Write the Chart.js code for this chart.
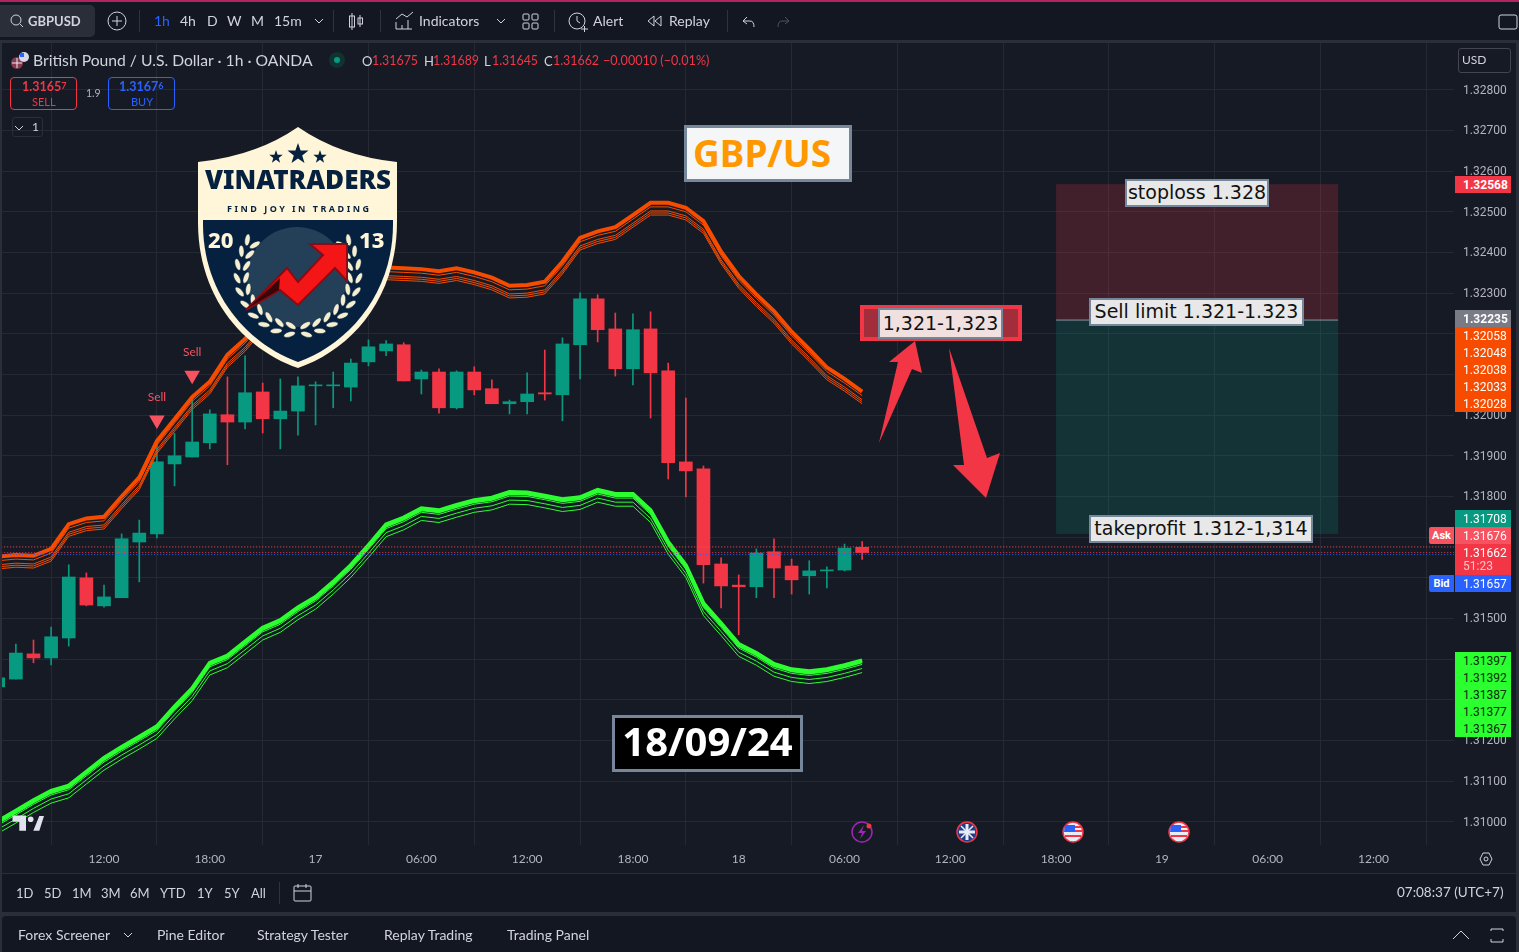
<!DOCTYPE html>
<html>
<head>
<meta charset="utf-8">
<title>GBPUSD</title>
<script src="https://cdn.jsdelivr.net/npm/chart.js@4"></script>
<style>
html,body{margin:0;padding:0;width:1519px;height:952px;overflow:hidden;background:#2a2e39;font-family:Lato,"Noto Sans",sans-serif}
.panel{position:absolute;background:#131722}
#pane{position:absolute;left:2px;top:43px;width:1514px;height:830px;background:#161a25}
canvas{position:absolute;left:0;top:0}
.t{position:absolute;white-space:nowrap;line-height:1;transform:translateY(-50%);color:#d1d4dc;font-size:14px}
.tag{position:absolute;left:1455px;width:56px;height:17px;font:12px/19px Roboto,sans-serif;color:#fff;text-indent:8px}
.side{position:absolute;left:1429px;width:25px;height:17px;text-align:center;font:bold 11px/18px Roboto,sans-serif;color:#fff;border-radius:2px 0 0 2px}
.note{position:absolute;box-sizing:border-box;height:28px;border:2px solid #76879b;background:#e8e8e8;color:#111;font:19px/22px "DejaVu Sans",sans-serif;text-align:center;white-space:nowrap}
.sep{position:absolute;top:10px;width:1px;height:22px;background:#2f333e}
svg{position:absolute;left:0;top:0;pointer-events:none}
</style>
</head>
<body>
<div class="panel" style="left:0;top:0;width:1519px;height:40px;border-top:2px solid #b3245f;box-sizing:border-box"></div>
<div id="pane"></div>
<div class="panel" style="left:2px;top:873px;width:1514px;height:39px;border-top:1px solid #2a2e39;box-sizing:border-box"></div>
<div class="panel" style="left:2px;top:916px;width:1514px;height:36px;border-radius:4px 4px 0 0"></div>
<div class="panel" style="left:0;top:5px;width:95px;height:32px;background:#2a2e39;border-radius:0 5px 5px 0"></div>
<canvas id="grafico" width="1519" height="952"></canvas>
<svg id="dibujo" width="1519" height="952"></svg>
<div id="textos"></div>
<script>
// ! Velas 1h GBPUSD
const opens = [1.31332,1.31351,1.31413,1.31403,1.31452,1.31600,1.31531,1.31551,1.31688,1.31708,1.31880,1.31897,1.31932,1.32001,1.31983,1.32057,1.31991,1.32010,1.32072,1.32072,1.32069,1.32131,1.32158,1.32173,1.32089,1.32106,1.32018,1.32106,1.32065,1.32028,1.32033,1.32055,1.32050,1.32173,1.32286,1.32212,1.32114,1.32212,1.32109,1.31885,1.31868,1.31634,1.31582,1.31578,1.31664,1.31629,1.31605,1.31617,1.31619,1.31675];
const highs = [1.31362,1.31437,1.31447,1.31479,1.31632,1.31612,1.31582,1.31708,1.31742,1.31931,1.31955,1.32043,1.32013,1.32094,1.32146,1.32079,1.32089,1.32094,1.32082,1.32106,1.32138,1.32185,1.32183,1.32178,1.32111,1.32114,1.32109,1.32119,1.32087,1.32037,1.32104,1.32160,1.32190,1.32301,1.32296,1.32251,1.32249,1.32254,1.32128,1.32042,1.31875,1.31649,1.31607,1.31671,1.31696,1.31646,1.31642,1.31627,1.31683,1.31689];
const lows = [1.31325,1.31351,1.31391,1.31386,1.31432,1.31531,1.31528,1.31551,1.31590,1.31698,1.31826,1.31897,1.31917,1.31878,1.31966,1.31956,1.31917,1.31951,1.31976,1.32018,1.32035,1.32121,1.32146,1.32084,1.32052,1.32005,1.32015,1.32050,1.32028,1.32003,1.32003,1.32037,1.31986,1.32089,1.32180,1.32096,1.32074,1.31993,1.31843,1.31799,1.31587,1.31526,1.31460,1.31551,1.31551,1.31560,1.31560,1.31575,1.31617,1.31645];
const closes = [1.31354,1.31415,1.31403,1.31455,1.31602,1.31533,1.31553,1.31696,1.31710,1.31885,1.31900,1.31934,1.32003,1.31983,1.32055,1.31991,1.32010,1.32072,1.32074,1.32074,1.32128,1.32168,1.32175,1.32084,1.32106,1.32018,1.32106,1.32062,1.32028,1.32033,1.32052,1.32052,1.32175,1.32286,1.32210,1.32114,1.32210,1.32104,1.31883,1.31863,1.31632,1.31580,1.31578,1.31661,1.31624,1.31595,1.31617,1.31619,1.31673,1.31662];
// ! Banda naranja
const naranja1 = [1.31652,1.31656,1.31654,1.31671,1.31732,1.31746,1.31750,1.31800,1.31847,1.31936,1.31990,1.32044,1.32082,1.32148,1.32187,1.32239,1.32288,1.32325,1.32347,1.32357,1.32361,1.32361,1.32363,1.32361,1.32359,1.32354,1.32361,1.32351,1.32338,1.32318,1.32320,1.32328,1.32377,1.32436,1.32452,1.32462,1.32492,1.32522,1.32522,1.32510,1.32477,1.32402,1.32342,1.32297,1.32256,1.32205,1.32162,1.32117,1.32089,1.32058];
const naranja2 = [1.31642,1.31646,1.31644,1.31661,1.31722,1.31736,1.31740,1.31790,1.31837,1.31926,1.31980,1.32034,1.32072,1.32138,1.32177,1.32229,1.32278,1.32315,1.32337,1.32347,1.32351,1.32351,1.32353,1.32351,1.32349,1.32344,1.32351,1.32341,1.32328,1.32308,1.32310,1.32318,1.32367,1.32426,1.32442,1.32452,1.32482,1.32512,1.32512,1.32500,1.32467,1.32392,1.32332,1.32287,1.32246,1.32195,1.32152,1.32107,1.32079,1.32048];
const naranja3 = [1.31632,1.31636,1.31634,1.31651,1.31712,1.31726,1.31730,1.31780,1.31827,1.31916,1.31970,1.32024,1.32062,1.32128,1.32167,1.32219,1.32268,1.32305,1.32327,1.32337,1.32341,1.32341,1.32343,1.32341,1.32339,1.32334,1.32341,1.32331,1.32318,1.32298,1.32300,1.32308,1.32357,1.32416,1.32432,1.32442,1.32472,1.32502,1.32502,1.32490,1.32457,1.32382,1.32322,1.32277,1.32236,1.32185,1.32142,1.32097,1.32069,1.32038];
const naranja4 = [1.31627,1.31631,1.31629,1.31646,1.31707,1.31721,1.31725,1.31775,1.31822,1.31911,1.31965,1.32019,1.32057,1.32123,1.32162,1.32214,1.32263,1.32300,1.32322,1.32332,1.32336,1.32336,1.32338,1.32336,1.32334,1.32329,1.32336,1.32326,1.32313,1.32293,1.32295,1.32303,1.32352,1.32411,1.32427,1.32437,1.32467,1.32497,1.32497,1.32485,1.32452,1.32377,1.32317,1.32272,1.32231,1.32180,1.32137,1.32092,1.32064,1.32033];
const naranja5 = [1.31622,1.31626,1.31624,1.31641,1.31702,1.31716,1.31720,1.31770,1.31817,1.31906,1.31960,1.32014,1.32052,1.32118,1.32157,1.32209,1.32258,1.32295,1.32317,1.32327,1.32331,1.32331,1.32333,1.32331,1.32329,1.32324,1.32331,1.32321,1.32308,1.32288,1.32290,1.32298,1.32347,1.32406,1.32422,1.32432,1.32462,1.32492,1.32492,1.32480,1.32447,1.32372,1.32312,1.32267,1.32226,1.32175,1.32132,1.32087,1.32059,1.32028];
// ! Banda verde
const verde1 = [1.31002,1.31027,1.31053,1.31076,1.31089,1.31123,1.31157,1.31184,1.31209,1.31235,1.31283,1.31328,1.31391,1.31409,1.31443,1.31477,1.31496,1.31527,1.31553,1.31590,1.31631,1.31680,1.31731,1.31748,1.31771,1.31766,1.31779,1.31791,1.31797,1.31811,1.31810,1.31802,1.31793,1.31798,1.31816,1.31806,1.31806,1.31766,1.31688,1.31631,1.31537,1.31488,1.31437,1.31415,1.31388,1.31375,1.31370,1.31375,1.31385,1.31397];
const verde2 = [1.30997,1.31022,1.31048,1.31071,1.31084,1.31118,1.31152,1.31179,1.31204,1.31230,1.31278,1.31323,1.31386,1.31404,1.31438,1.31472,1.31491,1.31522,1.31548,1.31585,1.31626,1.31675,1.31726,1.31743,1.31766,1.31761,1.31774,1.31786,1.31792,1.31806,1.31805,1.31797,1.31788,1.31793,1.31811,1.31801,1.31801,1.31761,1.31683,1.31626,1.31532,1.31483,1.31432,1.31410,1.31383,1.31370,1.31365,1.31370,1.31380,1.31392];
const verde3 = [1.30992,1.31017,1.31043,1.31066,1.31079,1.31113,1.31147,1.31174,1.31199,1.31225,1.31273,1.31318,1.31381,1.31399,1.31433,1.31467,1.31486,1.31517,1.31543,1.31580,1.31621,1.31670,1.31721,1.31738,1.31761,1.31756,1.31769,1.31781,1.31787,1.31801,1.31800,1.31792,1.31783,1.31788,1.31806,1.31796,1.31796,1.31756,1.31678,1.31621,1.31527,1.31478,1.31427,1.31405,1.31378,1.31365,1.31360,1.31365,1.31375,1.31387];
const verde4 = [1.30982,1.31007,1.31033,1.31056,1.31069,1.31103,1.31137,1.31164,1.31189,1.31215,1.31263,1.31308,1.31371,1.31389,1.31423,1.31457,1.31476,1.31507,1.31533,1.31570,1.31611,1.31660,1.31711,1.31728,1.31751,1.31746,1.31759,1.31771,1.31777,1.31791,1.31790,1.31782,1.31773,1.31778,1.31796,1.31786,1.31786,1.31746,1.31668,1.31611,1.31517,1.31468,1.31417,1.31395,1.31368,1.31355,1.31350,1.31355,1.31365,1.31377];
const verde5 = [1.30972,1.30997,1.31023,1.31046,1.31059,1.31093,1.31127,1.31154,1.31179,1.31205,1.31253,1.31298,1.31361,1.31379,1.31413,1.31447,1.31466,1.31497,1.31523,1.31560,1.31601,1.31650,1.31701,1.31718,1.31741,1.31736,1.31749,1.31761,1.31767,1.31781,1.31780,1.31772,1.31763,1.31768,1.31786,1.31776,1.31776,1.31736,1.31658,1.31601,1.31507,1.31458,1.31407,1.31385,1.31358,1.31345,1.31340,1.31345,1.31355,1.31367];
// ! Señales y precios
const sellBars = [9, 11];
const sellPrices = [1.31988, 1.32098];
const askPrice = 1.31676;
const closePrice = 1.31662;
const bidPrice = 1.31657;
const stopPrice = 1.32568;
const entryPrice = 1.32235;
const profitPrice = 1.31708;
const boxBars = [60, 76];
// ! Ejes
const timeTickBars = [6,12,18,24,30,36,42,48,54,60,66,72,78];
const timeTickLabels = ['12:00','18:00','17','06:00','12:00','18:00','18','06:00','12:00','18:00','19','06:00','12:00'];
const priceTicks = [1.328,1.327,1.326,1.325,1.324,1.323,1.322,1.321,1.32,1.319,1.318,1.317,1.316,1.315,1.314,1.313,1.312,1.311,1.31];
const hiddenPriceTicks = [1.322,1.321,1.317,1.316,1.314,1.313];

const UP = '#089981', DOWN = '#f23645';
const serie = (arr) => arr.map((v, i) => ({ x: i, y: v }));
const colores = closes.map((c, i) => c >= opens[i] ? UP : DOWN);
const banda = (data, color, width) => ({ type: 'line', data: serie(data), borderColor: color, borderWidth: width, pointRadius: 0, tension: 0, order: 1 });
const punteada = (price, color) => ({ type: 'line', data: [{ x: 0, y: price }, { x: 85, y: price }], borderColor: color, borderWidth: 1, borderDash: [1, 2], pointRadius: 0, order: 0 });
const sinMargen = (s) => { s.paddingLeft = 0; s.paddingRight = 0; s.paddingTop = 0; s.paddingBottom = 0; };

// caja de riesgo y textos Sell
const extras = {
  id: 'extras',
  beforeDatasetsDraw(chart) {
    const { ctx, scales: { x, y } } = chart;
    const x0 = x.getPixelForValue(boxBars[0]), x1 = x.getPixelForValue(boxBars[1]);
    const ys = y.getPixelForValue(stopPrice), ye = y.getPixelForValue(entryPrice), yp = y.getPixelForValue(profitPrice);
    ctx.save();
    ctx.fillStyle = 'rgba(242,54,69,.2)';
    ctx.fillRect(x0, ys, x1 - x0, ye - ys);
    ctx.fillStyle = 'rgba(8,153,129,.2)';
    ctx.fillRect(x0, ye, x1 - x0, yp - ye);
    ctx.fillStyle = '#8d95a3';
    ctx.fillRect(x0, ye, x1 - x0, 1);
    ctx.restore();
  },
  afterDatasetsDraw(chart) {
    const { ctx, scales: { x, y } } = chart;
    ctx.save();
    ctx.fillStyle = '#f7525f';
    ctx.font = '12px Lato';
    ctx.textAlign = 'center';
    sellBars.forEach((b, i) => {
      ctx.fillText('Sell', x.getPixelForValue(b), y.getPixelForValue(sellPrices[i]) - 19);
    });
    ctx.restore();
  }
};

new Chart(document.getElementById('grafico'), {
  type: 'bar',
  data: {
    datasets: [
      punteada(askPrice, '#f7525f'),
      punteada(closePrice, '#f23645'),
      punteada(bidPrice, '#2962ff'),
      { type: 'scatter', data: sellBars.map((b, i) => ({ x: b, y: sellPrices[i] })), pointStyle: 'triangle', rotation: 180, pointRadius: 9, backgroundColor: '#f7525f', borderWidth: 0, order: 0 },
      banda(naranja1, '#f74c00', 4),
      banda(naranja2, '#f74c00', 1),
      banda(naranja3, '#f74c00', 1),
      banda(naranja4, '#f74c00', 1),
      banda(naranja5, '#f74c00', 1),
      banda(verde1, '#2bff2f', 4),
      banda(verde2, '#2bff2f', 2),
      banda(verde3, '#2bff2f', 1),
      banda(verde4, '#2bff2f', 1),
      banda(verde5, '#2bff2f', 1),
      { data: serie(lows.map((l, i) => [l, highs[i]])), backgroundColor: colores, barThickness: 1, grouped: false, order: 3 },
      { data: serie(opens.map((o, i) => [Math.min(o, closes[i]), Math.max(o, closes[i])])), backgroundColor: colores, barThickness: 13, minBarLength: 1, grouped: false, order: 2 }
    ]
  },
  options: {
    responsive: false,
    animation: false,
    events: [],
    layout: { autoPadding: false, padding: { left: 2, top: 43, right: 0, bottom: 0 } },
    plugins: { legend: { display: false }, tooltip: { enabled: false } },
    scales: {
      x: {
        type: 'linear',
        offset: false,
        min: 0.214,
        max: 82.57,
        afterBuildTicks: (s) => { s.ticks = timeTickBars.map(v => ({ value: v })); },
        afterFit: (s) => { s.height = 107; sinMargen(s); },
        grid: { color: '#252934', drawTicks: false },
        border: { display: false },
        ticks: {
          autoSkip: false, maxRotation: 0, padding: 7, color: '#b2b5be',
          font: { family: 'Lato', size: 12 },
          callback: (v) => timeTickLabels[timeTickBars.indexOf(v)]
        }
      },
      y: {
        position: 'right',
        min: 1.30943,
        max: 1.32915,
        afterBuildTicks: (s) => { s.ticks = priceTicks.map(v => ({ value: v })); },
        afterFit: (s) => { s.width = 65; sinMargen(s); },
        grid: { color: '#252934', drawTicks: false },
        border: { display: false },
        ticks: {
          autoSkip: false, padding: 9, labelOffset: 1, color: '#b2b5be',
          font: { family: 'Roboto', size: 12 },
          callback: (v) => hiddenPriceTicks.includes(v) ? '' : v.toFixed(5)
        }
      }
    }
  },
  plugins: [extras]
});

// ! Textos fuera del grafico
const textos = document.getElementById('textos');
function txt(x, y, s, color, size, extra) {
  const d = document.createElement('div');
  d.className = 't';
  d.textContent = s;
  d.style.cssText = `left:${x}px;top:${y}px;` + (color ? `color:${color};` : '') + (size ? `font-size:${size}px;` : '') + (extra || '');
  textos.appendChild(d);
  return d;
}
function caja(cls, css, s) {
  const d = document.createElement('div');
  d.className = cls;
  d.style.cssText = css;
  d.textContent = s || '';
  textos.appendChild(d);
  return d;
}
// barra superior
txt(28, 21, 'GBPUSD', '#d1d4dc', 13, 'font-weight:700');
txt(154, 21, '1h', '#2962ff');
[['4h',180],['D',207],['W',227],['M',251],['15m',274],['Indicators',419],['Alert',593],['Replay',669]].forEach(e => txt(e[1], 21, e[0]));
[139, 333, 380, 554, 727].forEach(x => caja('sep', `left:${x}px`));
// leyenda
txt(33, 60.5, 'British Pound / U.S. Dollar · 1h · OANDA', '#d1d4dc', 15.7);
[['O',362,'1.31675',372],['H',424,'1.31689',433],['L',484,'1.31645',492],['C',544,'1.31662',553]].forEach(e => {
  txt(e[1], 60.5, e[0], '#d1d4dc', 13);
  txt(e[3], 60.5, e[2], '#f23645', 12.4);
});
txt(603, 60.5, '−0.00010 (−0.01%)', '#f23645', 12.6);
caja('', 'position:absolute;box-sizing:border-box;left:10px;top:77px;width:67px;height:33px;border:1px solid #f23645;border-radius:4px');
caja('', 'position:absolute;box-sizing:border-box;left:108px;top:77px;width:67px;height:33px;border:1px solid #2962ff;border-radius:4px');
txt(22, 87, '', '#f23645', 12.5, 'font-weight:700').innerHTML = '1.3165<span style="font-size:9px;vertical-align:2px">7</span>';
txt(32, 101, 'SELL', '#f23645', 11);
txt(86, 93, '1.9', '#b2b5be', 10.5);
txt(119, 87, '', '#2962ff', 12.5, 'font-weight:700').innerHTML = '1.3167<span style="font-size:9px;vertical-align:2px">6</span>';
txt(131, 101, 'BUY', '#2962ff', 11);
caja('', 'position:absolute;box-sizing:border-box;left:12px;top:117px;width:31px;height:20px;border:1px solid #2a2e39;border-radius:3px');
txt(32, 127, '1', '#d1d4dc', 12);
caja('', 'position:absolute;box-sizing:border-box;left:1458px;top:48px;width:53px;height:25px;border:1px solid #434651;border-radius:3px;background:#161a25');
txt(1462, 60, 'USD', '#d1d4dc', 12);
// etiquetas de precio
const tagTextos = ['1.32568','1.32235','1.32058','1.32048','1.32038','1.32033','1.32028','1.31708','1.31676','1.31657'];
const tagTops = [176,310,327,344,361,378,395,510,527,575];
const tagFondos = ['#f23645','#787b86','#f74c00','#f74c00','#f74c00','#f74c00','#f74c00','#089981','#f7525f','#2962ff'];
tagTextos.forEach((s, i) => caja('tag', `top:${tagTops[i]}px;background:${tagFondos[i]};font-weight:${i < 2 ? 700 : 400}`, s));
caja('tag', 'top:544px;height:31px;background:#f23645', '1.31662');
txt(1463, 566, '51:23', '#ffc2c7', 12, 'font-family:Roboto');
caja('side', 'top:527px;background:#f7525f', 'Ask');
caja('side', 'top:575px;background:#2962ff', 'Bid');
['1.31397','1.31392','1.31387','1.31377','1.31367'].forEach((s, i) => caja('tag', `top:${652 + i * 17}px;background:#2bff2f;color:#0a2a0a`, s));
// notas sobre el grafico
caja('note', 'left:684px;top:125px;width:168px;height:57px;border-width:3px;background:#f4f6f8;color:#ff9800;font:700 37px/49px "Noto Sans",sans-serif;text-align:left;text-indent:6px', 'GBP/US');
caja('note', 'left:612px;top:715px;width:191px;height:57px;border-width:3px;background:#000;color:#fff;font:700 40px/46px "Noto Sans",sans-serif', '18/09/24');
caja('note', 'left:1125px;top:179px;width:144px', 'stoploss 1.328');
caja('note', 'left:1089px;top:298px;width:215px', 'Sell limit 1.321-1.323');
caja('note', 'left:1089px;top:515px;width:224px', 'takeprofit 1.312-1,314');
caja('', 'position:absolute;box-sizing:border-box;left:860px;top:305px;width:162px;height:36px;border:4px solid #f23645;background:#a22d3b');
caja('note', 'left:878px;top:308px;width:125px;height:31px;background:#f0e0e0;line-height:27px', '1,321-1,323');
// barra de rango
[['1D',16],['5D',44],['1M',72],['3M',101],['6M',130],['YTD',160],['1Y',197],['5Y',224],['All',251]].forEach(e => txt(e[1], 893, e[0], '#d1d4dc', 13));
txt(1397, 893, '07:08:37 (UTC+7)', '#d1d4dc', 13.5);
[['Forex Screener',18],['Pine Editor',157],['Strategy Tester',257],['Replay Trading',384],['Trading Panel',507]].forEach(e => txt(e[1], 935, e[0], '#d1d4dc', 14));

// ! Dibujos: flechas, logo e iconos
const svg = document.getElementById('dibujo');
let h = '';
h += '<polygon fill="#f23645" points="879,443 898,362 889,362 915,341 922,373 912,369"/>';
h += '<polygon fill="#f23645" points="949,348 987,458 1000,453 986,498 953,465 964,465"/>';
// escudo
h += '<path fill="#fff5d8" d="M298 127 Q340 156 397 162 L397 222 C397 300 350 350 298 368 C246 350 198 300 198 222 L198 162 Q256 156 298 127Z"/>';
h += '<path fill="#06203f" d="M203 220 L393 220 L393 224 C393 296 346 345 298 362 C250 345 203 296 203 224Z"/>';
h += '<circle cx="297" cy="277" r="50" fill="#234058"/>';
// hojas del laurel, angulo desde abajo
[8,21,34,47,60,73,86,99,112,124].forEach(a => {
  [-1, 1].forEach(lado => {
    const r = lado * a * Math.PI / 180;
    [[61, 25],[52, -25]].forEach(p => {
      const cx = 298 + p[0] * Math.sin(r);
      const cy = 274 + p[0] * Math.cos(r);
      h += `<ellipse cx="${cx}" cy="${cy}" rx="6" ry="2.6" fill="#f5efd2" stroke="#06203f" stroke-width=".5" transform="rotate(${-lado * a + lado * p[1]} ${cx} ${cy})"/>`;
    });
  });
});
h += '<polygon fill="#f41616" stroke="#8b0a14" stroke-width="2" points="246,310 287,268 298,282 323,255 310,244 347,244 347,281 335,268 298,305 280,290"/>';
h += '<polygon fill="#3a0508" points="248,308 280,278 279,290"/>';
const estrella = (cx, cy, R) => {
  let p = [];
  for (let i = 0; i < 10; i++) {
    const rr = i % 2 ? R * 0.4 : R, an = -Math.PI / 2 + i * Math.PI / 5;
    p.push((cx + rr * Math.cos(an)).toFixed(1) + ',' + (cy + rr * Math.sin(an)).toFixed(1));
  }
  return `<polygon fill="#06203f" points="${p.join(' ')}"/>`;
};
h += estrella(276, 157, 7) + estrella(298, 154, 11) + estrella(320, 157, 7);
h += '<text x="298" y="189" text-anchor="middle" font-family="Noto Sans" font-weight="900" font-size="26" textLength="186" lengthAdjust="spacingAndGlyphs" fill="#06203f">VINATRADERS</text>';
h += '<text x="298" y="212" text-anchor="middle" font-family="Noto Sans" font-weight="700" font-size="9" textLength="142" fill="#06203f">FIND JOY IN TRADING</text>';
h += '<text x="208" y="248" font-family="Noto Sans" font-weight="800" font-size="22" fill="#fff5d8">20</text>';
h += '<text x="359" y="248" font-family="Noto Sans" font-weight="800" font-size="22" fill="#fff5d8">13</text>';
// logo TV
h += '<path fill="#e0e3eb" d="M12.5 815.5 H26 V830.7 H19.3 V821.7 H12.5Z"/><circle cx="30.7" cy="819.3" r="2.8" fill="#e0e3eb"/>';
h += '<path fill="#e0e3eb" d="M39.3 816 H44 L39.3 830.7 H33.3Z"/>';
// iconos de eventos
h += '<circle cx="862" cy="832" r="10" fill="none" stroke="#9c27b0" stroke-width="1.5"/><path fill="#9c27b0" d="M864 825 L858 833 H862 L860 839 L866 831 H862Z"/><circle cx="869" cy="826" r="2.5" fill="#f23645"/>';
[[967,'#1f3d8a'],[1073,'#e8ecf5'],[1179,'#e8ecf5']].forEach((f, i) => {
  h += `<circle cx="${f[0]}" cy="832" r="10" fill="${f[1]}" stroke="#f23645" stroke-width="1.5"/>`;
  if (i === 0) h += `<path stroke="#e8ecf5" stroke-width="3" d="M${f[0]-8} 832 H${f[0]+8} M${f[0]} 824 V840"/><path stroke="#e8ecf5" stroke-width="1.5" d="M${f[0]-6} 826 L${f[0]+6} 838 M${f[0]+6} 826 L${f[0]-6} 838"/>`;
  else h += `<path fill="#2962ff" d="M${f[0]-8} 825 H${f[0]+2} V832 H${f[0]-9}Z"/><path stroke="#f23645" stroke-width="2" d="M${f[0]+2} 827 H${f[0]+8} M${f[0]+2} 831 H${f[0]+9} M${f[0]-8} 836 H${f[0]+8}"/>`;
});
// bandera titulo
h += '<circle cx="17" cy="63" r="6" fill="#8a3a50"/><path stroke="#e8ecf5" stroke-width="1" d="M12 63 H22 M17 58 V68"/><circle cx="24" cy="57" r="5" fill="#d9d9e6"/><path fill="#2962ff" d="M20 53 H24 V57 H20Z"/><circle cx="337" cy="60" r="8" fill="#10332f"/><circle cx="337" cy="60" r="3" fill="#089981"/>';
// iconos barra superior
const linea = 'fill="none" stroke="#d1d4dc" stroke-width="1"';
h += `<circle cx="16" cy="20" r="5" ${linea}/><path ${linea} d="M20 24 L23 27"/>`;
h += `<circle cx="117" cy="21" r="9" ${linea}/><path ${linea} d="M117 16 V26 M112 21 H122"/>`;
h += `<path ${linea} d="M315 19 L319 23 L323 19 M497 19 L501 23 L505 19 M15 126 L19 130 L23 126 M1499 59 L1502 62 L1505 59 M124 933 L128 937 L132 933"/>`;
h += `<path ${linea} d="M352 13 V30 M360 15 V27"/><rect x="349.5" y="16" width="5" height="11" ${linea}/><rect x="358" y="18" width="4.5" height="6" ${linea}/>`;
h += `<path ${linea} d="M396 29 H412 M396 22 V29 M402 25 V29 M408 20 V29 M396 19 L402 14 L407 17 L413 12"/>`;
h += `<rect x="523" y="14" width="6" height="6" rx="1" ${linea}/><rect x="532" y="14" width="6" height="6" rx="1" ${linea}/><rect x="523" y="23" width="6" height="6" rx="1" ${linea}/><rect x="532" y="23" width="6" height="6" rx="1" ${linea}/>`;
h += `<circle cx="577" cy="21" r="8" ${linea}/><path ${linea} d="M577 16 V21 L580 23 M581 29 H588 M584.5 26 V32"/>`;
h += `<path ${linea} d="M654 16 L648 21 L654 26Z M661 16 L655 21 L661 26Z"/>`;
h += `<path ${linea} d="M747 17 L743 21 L747 24 M743 21 H750 Q754 21 754 27"/>`;
h += '<path fill="none" stroke="#50535e" d="M785 17 L789 21 L785 24 M789 21 H782 Q778 21 778 27"/>';
h += `<rect x="1499" y="15" width="18" height="14" rx="2" ${linea}/>`;
h += `<path ${linea} d="M1480 859 L1483 853 H1489 L1492 859 L1489 865 H1483Z"/><circle cx="1486" cy="859" r="2" ${linea}/>`;
h += `<rect x="294" y="886" width="17" height="15" rx="1" ${linea}/><path ${linea} d="M298 884 V888 M306 884 V888 M294 891 H311"/>`;
h += '<rect x="279" y="882" width="1" height="22" fill="#2f333e"/>';
h += `<path ${linea} d="M1453 939 L1461 931 L1469 939"/><path ${linea} d="M1491 931 V929 H1503 V931 M1491 939 V942 H1503 V939"/>`;
svg.innerHTML = h;
</script>
</body>
</html>
